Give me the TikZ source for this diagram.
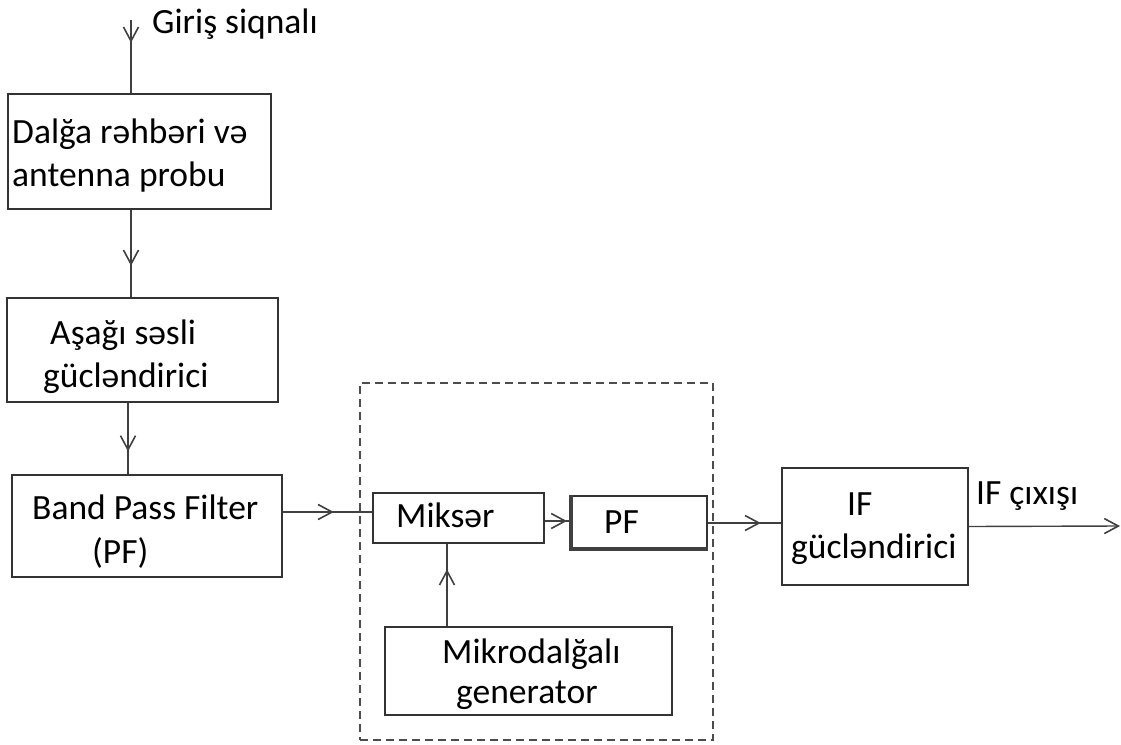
\documentclass[tikz,border=0pt]{standalone}
\usepackage{fontspec}
\setmainfont{Carlito}
\usetikzlibrary{arrows.meta,decorations.markings}
\tikzset{
  blk/.style={draw=black!80,line width=1.3pt,rectangle,inner sep=0pt},
  txt/.style={inner sep=0pt,anchor=base west,font=\fontsize{35.5}{40}\selectfont,text=black},
  conn/.style={draw=black!75,line width=1.4pt},
  midarr/.style={postaction={decorate},decoration={markings,mark=at position #1 with {\arrow{Straight Barb[length=14pt,width=15pt,line width=1.6pt]}}}},
  grpbox/.style={draw=black!70,line width=1.5pt,dash pattern=on 8pt off 5pt,rectangle,inner sep=0pt}
}
\begin{document}
\begin{tikzpicture}[x=1pt,y=-1pt]
\useasboundingbox (0,0) rectangle (1121,744);
% dashed group
\node[grpbox,minimum width=353pt,minimum height=357pt] (grp) at (536.5,561.5) {};
% boxes
\node[blk,minimum width=263pt,minimum height=115pt] (b1) at (139.5,151.5) {};
\node[blk,minimum width=271pt,minimum height=104pt] (b2) at (142.5,350) {};
\node[blk,minimum width=270pt,minimum height=102pt] (b3) at (147,526) {};
\node[blk,minimum width=171pt,minimum height=50pt] (mix) at (458.5,518) {};
\node[blk,minimum width=137pt,minimum height=54pt] (pf) at (638.5,523) {};
\draw[black!75,line width=3.5pt] ([xshift=1.5pt]pf.north west) -- ([xshift=1.5pt,yshift=1.5pt]pf.south west) -- ([yshift=1.5pt]pf.south east);
\node[blk,minimum width=287pt,minimum height=88pt] (gen) at (528.5,671) {};
\node[blk,minimum width=186pt,minimum height=117pt] (ifa) at (875,526.5) {};
% texts
\node[txt] (tin) at (152,33) {Giriş siqnalı};
\node[txt] (t1a) at (12,143) {Dalğa rəhbəri və};
\node[txt] (t1b) at (12,186) {antenna probu};
\node[txt] (t2a) at (50,344) {Aşağı səsli};
\node[txt] (t2b) at (43,387) {gücləndirici};
\node[txt] (t3a) at (32,519) {Band Pass Filter};
\node[txt] (t3b) at (92,563) {(PF)};
\node[txt] (tmix) at (396,527) {Miksər};
\node[txt] (tpf) at (604,533) {PF};
\node[txt] (tg1) at (442,663) {Mikrodalğalı};
\node[txt] (tg2) at (456,703) {generator};
\node[txt] (tif1) at (847,515) {IF};
\node[txt] (tif2) at (791,558) {gücləndirici};
\node[txt] (tout) at (976,504) {IF çıxışı};
% helper coordinates
\coordinate (vx) at (131,0);
\coordinate (inp) at (131,20);
\coordinate (gx) at (447,0);
\coordinate (outp) at (1120,526);
% connectors
\draw[conn,midarr=0.31] (inp) -- (b1.north -| vx);
\draw[conn,midarr=0.64] (b1.south -| vx) -- (b2.north -| vx);
\draw[conn,midarr=0.68] ([xshift=-3pt]b2.south -| vx) -- ([xshift=-3pt]b3.north -| vx);
\draw[conn,midarr=0.57] ([yshift=14pt]b3.east) -- ([yshift=14pt]b3.east -| mix.west);
\draw[conn,midarr=0.9] ([yshift=-3pt]mix.east) -- ([yshift=-3pt]mix.east -| pf.west);
\draw[conn,midarr=0.72] (pf.east) -- (pf.east -| ifa.west);
\draw[conn,midarr=0.69] (gen.north -| gx) -- (mix.south -| gx);
\draw[conn,-{Straight Barb[length=14pt,width=15pt,line width=1.6pt]}] (ifa.east) -- (outp);
\end{tikzpicture}
\end{document}
